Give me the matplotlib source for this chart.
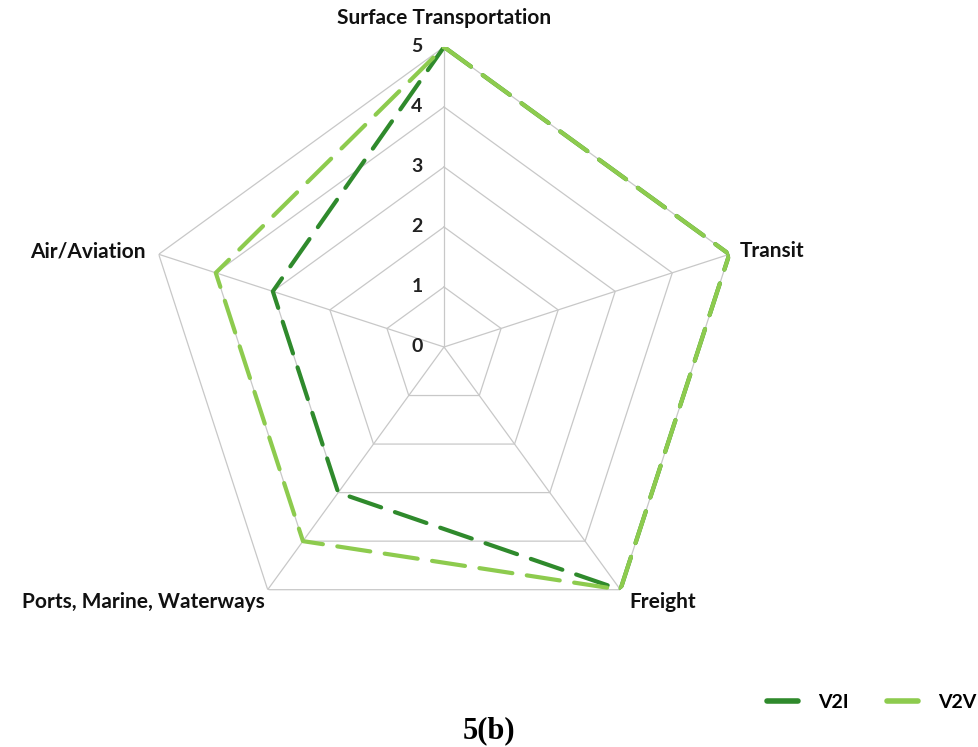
import numpy as np
import matplotlib
matplotlib.use("Agg")
import matplotlib.pyplot as plt
from matplotlib.lines import Line2D

categories = ["Surface Transportation", "Transit", "Freight",
              "Ports, Marine, Waterways", "Air/Aviation"]
v2i = [5, 5, 5, 3, 3]
v2v = [5, 5, 5, 4, 4]
series_names = ["V2I", "V2V"]
radial_ticks = [0, 1, 2, 3, 4, 5]

c_v2i = "#2F8A2C"
c_v2v = "#8DCB4E"
grid_c = "#C8C8C8"
font = "Lato"

fig = plt.figure(figsize=(9.79, 7.47), dpi=100)
ax = fig.add_axes([0.1471, 0.1339, 0.6129, 0.8032], projection="polar")
ax.set_theta_offset(np.pi / 2)
ax.set_theta_direction(-1)
ax.set_ylim(0, 5)
ax.grid(False)
ax.spines["polar"].set_visible(False)
ax.set_xticks([])
ax.set_yticks([])
ax.patch.set_alpha(0)

n = len(categories)
theta = np.arange(n) * 2 * np.pi / n
tc = np.append(theta, theta[0])

# polygon grid
for r in radial_ticks[1:]:
    ax.plot(tc, [r] * (n + 1), color=grid_c, lw=0.9, zorder=1)
for t in theta:
    ax.plot([t, t], [0, 5], color=grid_c, lw=0.9, zorder=1)

# series
for vals, col in [(v2i, c_v2i), (v2v, c_v2v)]:
    ln, = ax.plot(tc, list(vals) + [vals[0]], color=col, lw=3.0, zorder=3,
                  solid_capstyle="round", dash_capstyle="round")
    ln.set_dashes((8, 3.5))

# radial tick labels
for r in radial_ticks:
    ax.annotate(str(r), xy=(0, r), xytext=(-27, 0), textcoords="offset pixels",
                ha="center", va="center", fontsize=14, fontweight="bold",
                family=font, color="#222222")

# category labels
offsets = [(0, 29, "center"), (10, 3, "left"), (9, -12, "left"),
           (-3, -12, "right"), (-13, 3, "right")]
for t, lab, (dx, dy, ha) in zip(theta, categories, offsets):
    ax.annotate(lab, xy=(t, 5), xytext=(dx, dy), textcoords="offset pixels",
                ha=ha, va="center", fontsize=15, fontweight="bold",
                family=font, color="#111111", annotation_clip=False)

handles = [Line2D([], [], color=c_v2i, lw=4, solid_capstyle="round"),
           Line2D([], [], color=c_v2v, lw=4, solid_capstyle="round")]
fig.legend(handles, series_names, loc="center right",
           bbox_to_anchor=(1.015, 0.06), ncol=2, frameon=False,
           handlelength=1.6, columnspacing=2.0, handletextpad=1.0,
           prop={"family": font, "weight": "bold", "size": 14})

fig.text(0.5, 0.022, "5(b)", ha="center", va="center", fontsize=22,
         fontweight="bold", family="Liberation Serif")

fig.savefig("out.png", dpi=100)
